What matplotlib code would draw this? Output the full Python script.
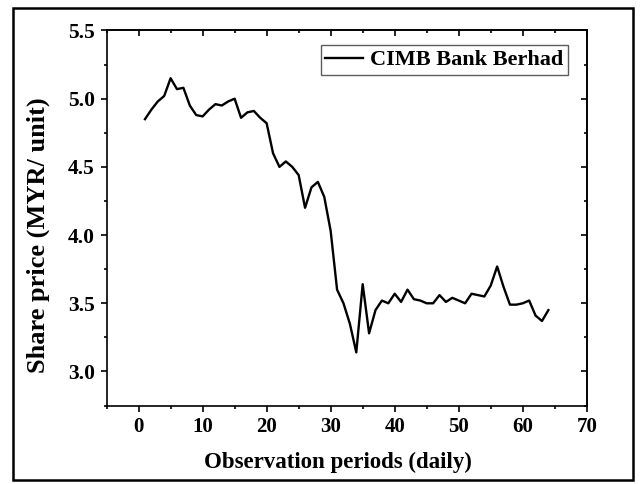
import numpy as np
import matplotlib as mpl
mpl.use('Agg')
import matplotlib.pyplot as plt
import matplotlib.ticker as tck
from matplotlib.patches import Rectangle

# daily observations
days = list(range(1, 65))
price = [4.85, 4.92, 4.98, 5.02, 5.15, 5.07, 5.08, 4.95, 4.88, 4.87,
         4.92, 4.96, 4.95, 4.98, 5.00, 4.86, 4.90, 4.91, 4.86, 4.82,
         4.60, 4.50, 4.54, 4.50, 4.44, 4.20, 4.35, 4.39, 4.28, 4.03,
         3.60, 3.50, 3.35, 3.14, 3.64, 3.28, 3.45, 3.52, 3.50, 3.57,
         3.51, 3.60, 3.53, 3.52, 3.50, 3.50, 3.56, 3.51, 3.54, 3.52,
         3.50, 3.57, 3.56, 3.55, 3.63, 3.77, 3.62, 3.49, 3.49, 3.50,
         3.52, 3.41, 3.37, 3.45]
label = 'CIMB Bank Berhad'
xticks = [0, 10, 20, 30, 40, 50, 60, 70]
yticks = [3.0, 3.5, 4.0, 4.5, 5.0, 5.5]

plt.rcParams['font.family'] = 'Liberation Serif'
plt.rcParams['font.weight'] = 'bold'

def main():
    fig = plt.figure(figsize=(6.42, 4.84), dpi=100)
    ax = fig.add_axes([0.166, 0.162, 0.748, 0.775])

    ax.plot(days, price, color='black', lw=1.7, label=label)

    ax.set_xlim(-5, 70)
    ax.set_ylim(2.75, 5.5)
    ax.set_xticks(xticks)
    ax.set_xticklabels([str(v) for v in xticks], fontsize=15, fontweight='bold')
    ax.set_yticks(yticks)
    ax.set_yticklabels(['%.1f' % v for v in yticks], fontsize=15.5, fontweight='bold')
    ax.xaxis.set_minor_locator(tck.MultipleLocator(5))
    ax.yaxis.set_minor_locator(tck.MultipleLocator(0.25))

    ax.tick_params(which='major', direction='out', length=4.5, width=1.2, pad=4)
    ax.tick_params(which='minor', direction='out', length=2.5, width=1.2)

    # top / right ticks pointing inward
    top = ax.secondary_xaxis('top')
    top.xaxis.set_major_locator(tck.MultipleLocator(10))
    top.xaxis.set_minor_locator(tck.MultipleLocator(5))
    top.tick_params(which='major', direction='in', length=4.5, width=1.2, labeltop=False)
    top.tick_params(which='minor', direction='in', length=2.5, width=1.2)
    right = ax.secondary_yaxis('right')
    right.yaxis.set_major_locator(tck.MultipleLocator(0.5))
    right.yaxis.set_minor_locator(tck.MultipleLocator(0.25))
    right.tick_params(which='major', direction='in', length=4.5, width=1.2, labelright=False)
    right.tick_params(which='minor', direction='in', length=2.5, width=1.2)

    for sp in list(ax.spines.values()) + [top.spines['top'], right.spines['right']]:
        sp.set_linewidth(1.2)

    ax.set_xlabel('Observation periods (daily)', fontsize=16.5, fontweight='bold')
    ax.set_ylabel('Share price (MYR/ unit)', fontsize=19, fontweight='bold')
    ax.xaxis.set_label_coords(0.482, -0.123)
    ax.yaxis.set_label_coords(-0.118, 0.455)

    leg = ax.legend(loc='upper right', fontsize=16, frameon=True, fancybox=False,
                    edgecolor='#333333', handlelength=1.7, handletextpad=0.3,
                    borderpad=0.2, borderaxespad=0.0,
                    bbox_to_anchor=(0.96, 0.96))
    leg.get_frame().set_linewidth(1.0)
    for t in leg.get_texts():
        t.set_fontweight('bold')

    fig.patches.append(Rectangle((0.02, 0.008), 0.966, 0.975, transform=fig.transFigure,
                                 fill=False, edgecolor='black', lw=1.8))

    plt.savefig('out.png', dpi=100)
    plt.close()


if __name__ == '__main__':
    main()
